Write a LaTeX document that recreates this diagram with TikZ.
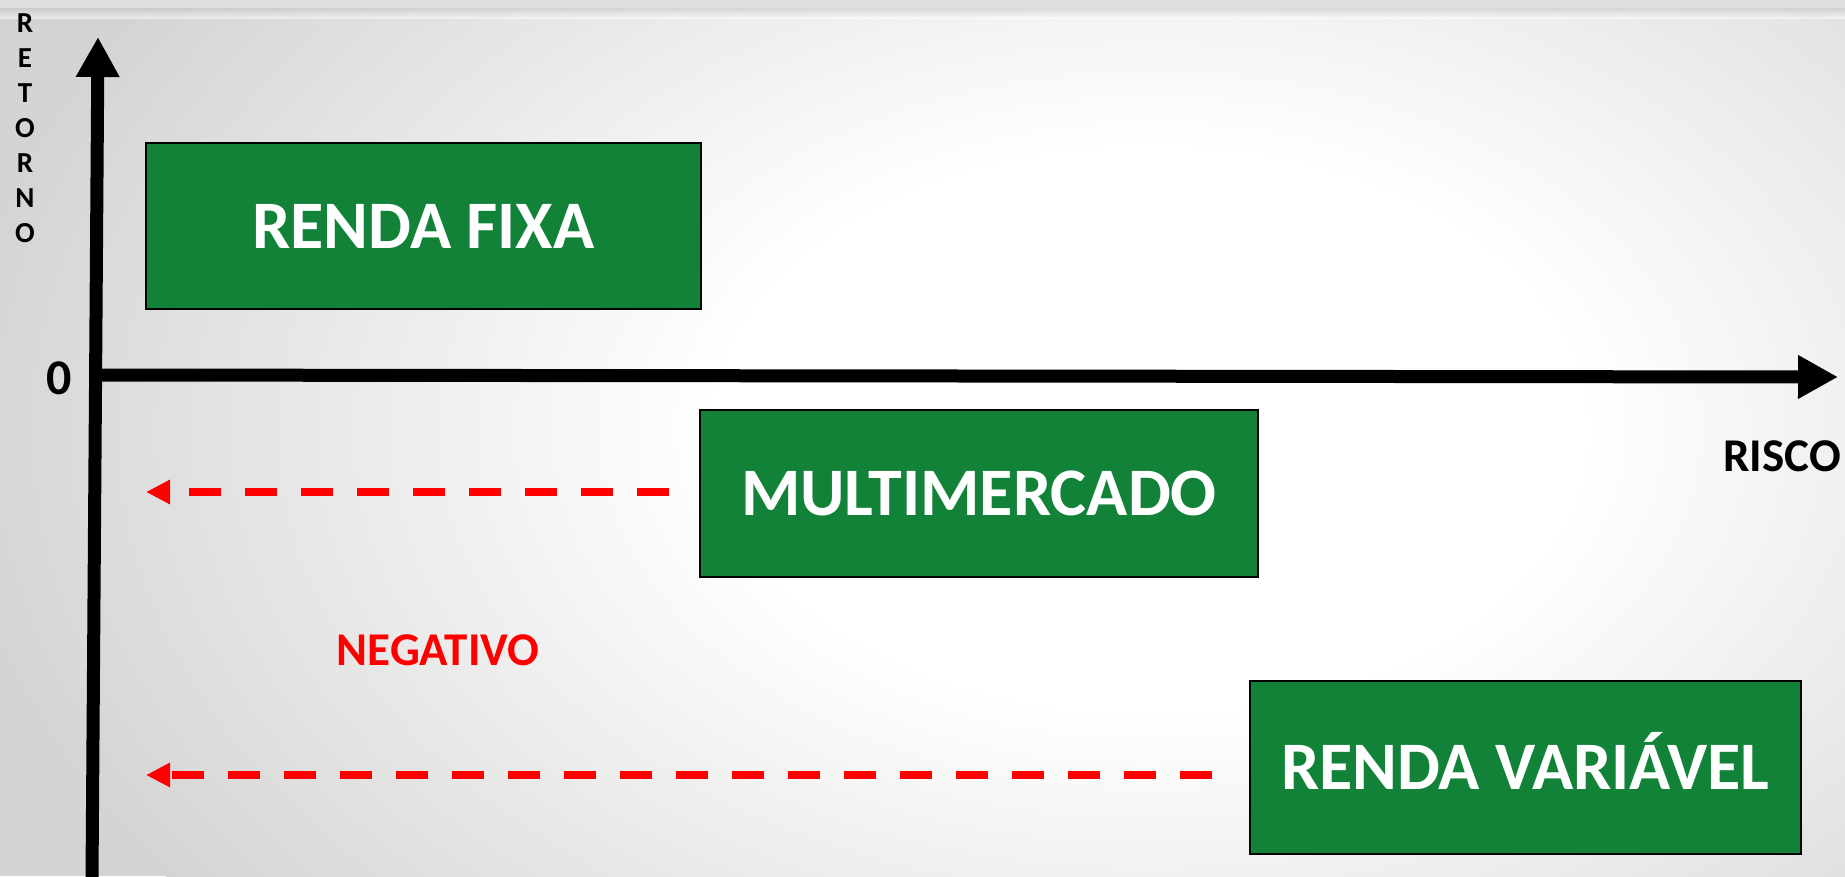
\documentclass[tikz,border=0pt]{standalone}
\usepackage{fontspec}
\setmainfont{Carlito}
\usetikzlibrary{arrows.meta}
\definecolor{boxgreen}{RGB}{18,130,56}
\definecolor{bgedge}{RGB}{212,212,212}
\pgfdeclareradialshading{bgshade}{\pgfpoint{0bp}{0bp}}{color(0bp)=(white); color(9bp)=(white); color(25bp)=(bgedge); color(50bp)=(bgedge)}
\begin{document}
\begin{tikzpicture}[x=1pt,y=-1pt,
  greenbox/.style={draw=black,line width=2pt,fill=boxgreen,text=white,
    font=\fontsize{68}{80}\selectfont\bfseries,inner sep=0pt,
    text height=44pt,text depth=0pt,anchor=north west},
  axisline/.style={line width=13pt,-{Triangle[length=40pt,width=41pt]}},
  negarrow/.style={red,line width=8pt,dash pattern=on 32.5pt off 23.5pt,
    -{Triangle[length=24pt,width=23pt]}},
  lbl/.style={font=\fontsize{47}{54}\selectfont\bfseries,inner sep=0pt,anchor=base},
  vlet/.style={font=\fontsize{29}{30}\selectfont\bfseries,inner sep=0pt,anchor=base}]
\useasboundingbox (0,0) rectangle (1845,876);
% background
\fill[bgedge] (0,0) rectangle (1845,876);
\begin{scope}
  \clip (0,0) rectangle (1845,876);
  \shade[shading=bgshade] (1150,430) ellipse [x radius=1200,y radius=780];
  \fill[black!13] (0,0) rectangle (1845,8);
  \shade[top color=black!24,bottom color=white,opacity=0.5] (0,8) rectangle (1845,18);
\end{scope}
% axes
\coordinate (yb) at (92,880);
\coordinate (yt) at (98,37);
\coordinate (xl) at (91,375);
\coordinate (xr) at (1838,377);
\draw[axisline] (yb) -- (yt);
\draw[axisline] (xl) -- (xr);
% boxes
\node[greenbox,minimum width=555pt,minimum height=166pt] (rf) at (145,142) {RENDA FIXA};
\node[greenbox,minimum width=558pt,minimum height=167pt] (mm) at (699,409) {MULTIMERCADO};
\node[greenbox,minimum width=551pt,minimum height=173pt] (rv) at (1249,680) {RENDA VARIÁVEL};
% labels
\node[lbl,font=\fontsize{50}{54}\selectfont\bfseries] (zero) at (59,394) {0};
\node[lbl] (risco) at (1782,471) {RISCO};
\node[lbl,text=red] (neg) at (438,665) {NEGATIVO};
\foreach \l [count=\i] in {R,E,T,O,R,N,O}
  \node[vlet] (ret\i) at (25,{32+35*(\i-1)}) {\l};
% red dashed arrows
\coordinate (s1) at (669,492);
\coordinate (t1) at (146,492);
\coordinate (s2) at (1212,775);
\coordinate (t2) at (146,775);
\draw[negarrow] (s1) -- (t1);
\draw[negarrow] (s2) -- (t2);
\end{tikzpicture}
\end{document}
